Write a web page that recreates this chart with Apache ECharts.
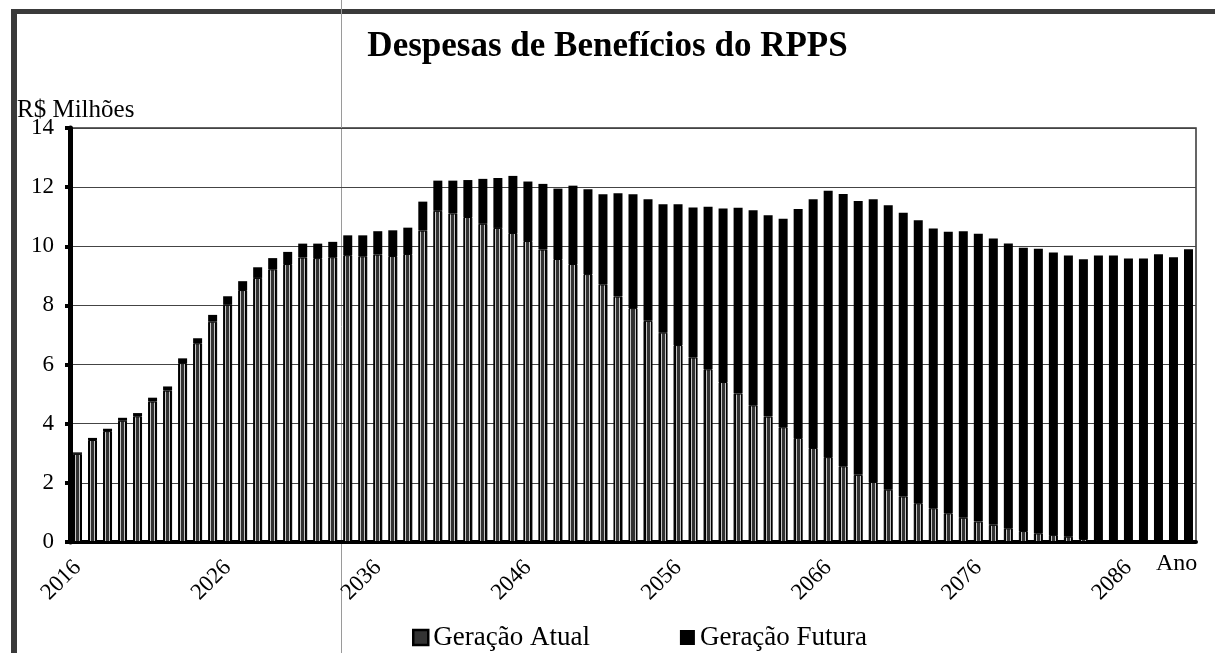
<!DOCTYPE html>
<html>
<head>
<meta charset="utf-8">
<title>Despesas de Benefícios do RPPS</title>
<script src="https://cdn.jsdelivr.net/npm/echarts@6/dist/echarts.min.js"></script>
<style>
  html, body { margin: 0; padding: 0; background: #fff; }
  #chart { width: 1215px; height: 653px; }
</style>
</head>
<body>
<div id="chart"></div>
<script>
  // eixo x: anos de projeção
  const anos = [
    '2016', '2017', '2018', '2019', '2020', '2021', '2022', '2023', '2024', '2025',
    '2026', '2027', '2028', '2029', '2030', '2031', '2032', '2033', '2034', '2035',
    '2036', '2037', '2038', '2039', '2040', '2041', '2042', '2043', '2044', '2045',
    '2046', '2047', '2048', '2049', '2050', '2051', '2052', '2053', '2054', '2055',
    '2056', '2057', '2058', '2059', '2060', '2061', '2062', '2063', '2064', '2065',
    '2066', '2067', '2068', '2069', '2070', '2071', '2072', '2073', '2074', '2075',
    '2076', '2077', '2078', '2079', '2080', '2081', '2082', '2083', '2084', '2085',
    '2086', '2087', '2088', '2089', '2090'
  ]

  // R$ milhões - geração atual (base da pilha)
  const geracaoAtual = [
    2.98, 3.45, 3.75, 4.10, 4.25, 4.75, 5.12, 6.05, 6.72, 7.45,
    8.02, 8.52, 8.93, 9.22, 9.40, 9.62, 9.60, 9.63, 9.70, 9.66,
    9.72, 9.67, 9.74, 10.53, 11.20, 11.11, 10.99, 10.76, 10.62, 10.45,
    10.18, 9.89, 9.57, 9.40, 9.06, 8.71, 8.30, 7.91, 7.48, 7.08,
    6.66, 6.24, 5.84, 5.41, 5.02, 4.62, 4.24, 3.88, 3.52, 3.18,
    2.87, 2.56, 2.27, 2.03, 1.77, 1.54, 1.31, 1.14, 0.97, 0.82,
    0.69, 0.58, 0.46, 0.37, 0.29, 0.24, 0.18, 0.10, 0.06, 0.04,
    0.02, 0.01, 0.01, 0, 0
  ]

  // R$ milhões - geração futura (topo da pilha)
  const geracaoFutura = [
    0.05, 0.07, 0.08, 0.10, 0.11, 0.13, 0.14, 0.16, 0.17, 0.23,
    0.29, 0.30, 0.36, 0.38, 0.41, 0.47, 0.49, 0.52, 0.67, 0.71,
    0.79, 0.87, 0.89, 0.98, 1.02, 1.11, 1.25, 1.52, 1.69, 1.93,
    2.01, 2.22, 2.38, 2.65, 2.87, 3.05, 3.49, 3.85, 4.11, 4.34,
    4.76, 5.07, 5.50, 5.87, 6.28, 6.60, 6.81, 7.05, 7.74, 8.41,
    9.01, 9.21, 9.26, 9.56, 9.62, 9.59, 9.57, 9.46, 9.52, 9.69,
    9.73, 9.68, 9.63, 9.58, 9.63, 9.55, 9.51, 9.46, 9.63, 9.65,
    9.57, 9.58, 9.72, 9.63, 9.90
  ]

  // eixo y: 0 a 14, de 2 em 2
  const yTicks = [0, 2, 4, 6, 8, 10, 12, 14]

  const fonte = 'Liberation Serif'

  // listras verticais da barra "Geração Atual": preto / claro / cinza / claro / preto
  // (barra de 9px: 2 preto, 1 claro, 3 cinza, 1 claro, 2 preto)
  const corAtual = new echarts.graphic.LinearGradient(0, 0, 1, 0, [
    { offset: 0, color: '#000' }, { offset: 0.222, color: '#000' },
    { offset: 0.222, color: '#c4c4c4' }, { offset: 0.333, color: '#c4c4c4' },
    { offset: 0.333, color: '#333' }, { offset: 0.667, color: '#333' },
    { offset: 0.667, color: '#c4c4c4' }, { offset: 0.778, color: '#c4c4c4' },
    { offset: 0.778, color: '#000' }, { offset: 1, color: '#000' }
  ])

  const chart = echarts.init(document.getElementById('chart'))
  chart.setOption({
    backgroundColor: '#fff',
    animation: false,
    title: {
      text: 'Despesas de Benefícios do RPPS',
      left: 'center',
      top: 24,
      textStyle: { fontFamily: fonte, fontSize: 35, fontWeight: 'bold', color: '#000' }
    },
    legend: {
      left: 407,
      top: 619,
      itemWidth: 15,
      itemHeight: 15,
      itemGap: 90,
      textStyle: { fontFamily: fonte, fontSize: 27, color: '#000' },
      data: [
        { name: 'Geração Atual', icon: 'rect', itemStyle: { color: '#333', borderColor: '#000', borderWidth: 2.5 } },
        { name: 'Geração Futura', icon: 'rect', itemStyle: { color: '#000' } }
      ]
    },
    grid: {
      left: 70,
      right: 19,
      top: 128,
      bottom: 111,
      show: true,
      borderColor: '#333',
      borderWidth: 1.5
    },
    xAxis: {
      type: 'category',
      data: anos,
      boundaryGap: true,
      axisLine: { lineStyle: { color: '#000', width: 4 } },
      axisTick: { interval: 9, length: 6, lineStyle: { color: '#000', width: 4 } },
      axisLabel: {
        interval: 9,
        rotate: 45,
        margin: 22,
        fontFamily: fonte,
        fontSize: 23,
        color: '#000'
      },
      splitLine: { show: false }
    },
    yAxis: {
      type: 'value',
      min: yTicks[0],
      max: yTicks[yTicks.length - 1],
      interval: yTicks[1] - yTicks[0],
      axisLine: { show: true, lineStyle: { color: '#000', width: 5 } },
      axisTick: { show: true, length: 5, lineStyle: { color: '#000', width: 4 } },
      axisLabel: { margin: 16, fontFamily: fonte, fontSize: 23, color: '#000' },
      splitLine: { lineStyle: { color: '#444', width: 1.2 } }
    },
    series: [
      {
        name: 'Geração Atual',
        type: 'bar',
        stack: 'total',
        barWidth: 9,
        data: geracaoAtual,
        itemStyle: { color: corAtual, borderColor: '#000', borderWidth: 1 }
      },
      {
        name: 'Geração Futura',
        type: 'bar',
        stack: 'total',
        barWidth: 9,
        data: geracaoFutura,
        itemStyle: { color: '#000' }
      }
    ],
    graphic: [
      // moldura escaneada
      { type: 'rect', shape: { x: 11, y: 9, width: 1204, height: 5 }, style: { fill: '#3a3a3a' }, silent: true },
      { type: 'rect', shape: { x: 11, y: 9, width: 6, height: 644 }, style: { fill: '#3a3a3a' }, silent: true },
      { type: 'line', shape: { x1: 341.5, y1: 0, x2: 341.5, y2: 653 }, style: { stroke: '#9a9a9a', lineWidth: 1 }, silent: true },
      // unidade e nome do eixo x
      { type: 'text', style: { x: 17, y: 110, text: 'R$ Milhões', font: '25px "Liberation Serif"', fill: '#000', verticalAlign: 'middle' } },
      { type: 'text', style: { x: 1156, y: 564, text: 'Ano', font: '24px "Liberation Serif"', fill: '#000', verticalAlign: 'middle' } }
    ]
  })
</script>
</body>
</html>
